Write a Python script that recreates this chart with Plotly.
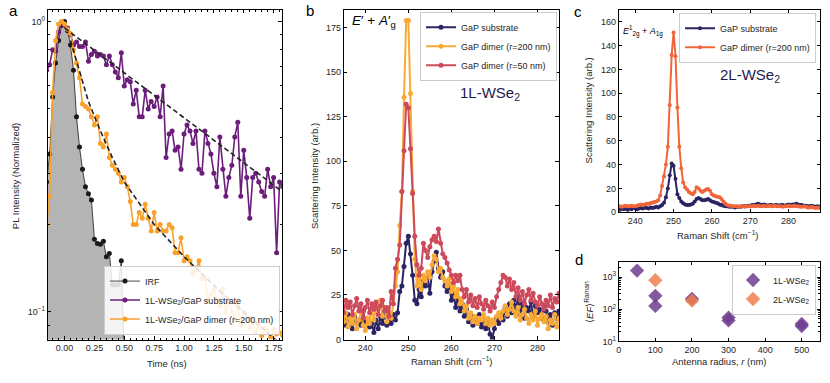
import numpy as np
import plotly.graph_objects as go

# ---------------- panel a : PL decay (normalized) ----------------
t_start, t_step = -0.15, 0.025
irf = [0.28, 0.35, 0.55, 0.72, 0.86, 0.97, 1.0, 0.93, 0.83, 0.68, 0.47,
       0.37, 0.31, 0.27, 0.255, 0.243, 0.178, 0.172, 0.171, 0.175, 0.155,
       0.159, 0.124, 0.124, 0.124, 0.150, 0.07, 0.06, 0.05]
pl_sub = [0.68,
          0.71, 0.80, 0.79, 0.92, 0.99, 0.97, 0.95, 0.90, 0.83, 0.85,
          0.82, 0.82, 0.85, 0.73, 0.77, 0.79, 0.76, 0.77, 0.76, 0.71,
          0.76, 0.71, 0.67, 0.64, 0.78, 0.60, 0.63, 0.62, 0.52, 0.58,
          0.47, 0.47, 0.58, 0.50, 0.53, 0.51, 0.55, 0.47, 0.60, 0.34,
          0.41, 0.42, 0.36, 0.37, 0.31, 0.41, 0.44, 0.42, 0.38, 0.42,
          0.31, 0.30, 0.42, 0.38, 0.35, 0.30, 0.27, 0.40, 0.31, 0.25,
          0.29, 0.32, 0.40, 0.45, 0.25, 0.36, 0.29, 0.21, 0.29, 0.30,
          0.28, 0.26, 0.25, 0.31, 0.27, 0.29, 0.16, 0.28,
          0.27]
pl_dimer = [0.20,
            0.25, 0.57, 0.86, 0.98, 1.0, 0.98, 0.94, 0.91, 0.80, 0.72,
            0.64, 0.52, 0.51, 0.50, 0.47, 0.44, 0.47, 0.38, 0.37, 0.41,
            0.34, 0.32, 0.31, 0.30, 0.28, 0.29, 0.27, 0.24, 0.20, 0.20,
            0.22, 0.21, 0.235, 0.21, 0.19, 0.22, 0.19, 0.20, 0.19, 0.19,
            0.20, 0.195, 0.16, 0.16, 0.18, 0.15, 0.155, 0.15, 0.135, 0.14,
            0.15, 0.13, 0.13, 0.11, 0.115, 0.12, 0.11, 0.105, 0.12, 0.10,
            0.11, 0.10, 0.095, 0.105, 0.09, 0.10, 0.095, 0.088, 0.092, 0.085,
            0.09, 0.083, 0.088, 0.086, 0.082, 0.087, 0.084, 0.085,
            0.083]
fit_sub_t = [0.0, 1.82]
fit_sub = [0.95, 0.26]
fit_dimer_t = [0.05, 0.12, 0.2, 0.3, 0.4, 0.5, 0.75, 1.0, 1.3, 1.6, 1.85]
fit_dimer = [0.86, 0.68, 0.53, 0.42, 0.34, 0.28, 0.2, 0.155, 0.118, 0.092, 0.075]

# ---------------- panel b : 1L-WSe2 Raman ----------------
b_start = 235.0
b_sub = [12, 8, 14, 10, 6, 13, 9, 11, 8, 16,
         10, 12, 7, 9, 4, 11, 6, 13, 9, 15,
         8, 12, 9, 14, 11, 15, 27, 30, 41, 54,
         58, 48, 36, 22, 20, 28, 24, 33, 30, 35,
         26, 38, 44, 49, 40, 35, 38, 30, 27, 31,
         22, 26, 18, 23, 16, 20, 13, 17, 10, 14,
         8, 12, 9, 14, 7, 11, 6, 10, 3, 0.5,
         6, 12, 9, 14, 11, 18, 13, 20, 15, 22,
         17, 24, 14, 20, 12, 18, 16, 21, 13, 19,
         15, 17, 12, 19, 16, 10, 14, 8, 15, 12,
         16]
b_200 = [10, 15, 7, 12, 9, 14, 6, 11, 16, 8,
         5, 12, 9, 17, 11, 20, 14, 22, 13, 18,
         10, 15, 12, 20, 30, 38, 64, 83, 136, 179,
         179, 138, 83, 45, 30, 34, 28, 36, 33, 38,
         35, 42, 47, 45, 38, 40, 35, 33, 30, 34,
         27, 30, 24, 28, 20, 23, 16, 19, 12, 15,
         10, 13, 9, 12, 11, 14, 9, 12, 8, 11,
         9, 13, 15, 12, 16, 19, 14, 17, 21, 16,
         13, 18, 11, 14, 17, 12, 9, 14, 11, 16,
         8, 12, 14, 10, 13, 6, 11, 9, 14, 7,
         12]
b_50 = [15, 22, 18, 21, 14, 19, 23, 16, 20, 12,
        18, 22, 15, 20, 17, 21, 14, 19, 22, 16,
        18, 13, 27, 20, 40, 45, 53, 83, 106, 132,
        130, 107, 82, 58, 42, 36, 40, 54, 50, 46,
        52, 56, 58, 55, 62, 54, 48, 46, 43, 39,
        36, 32, 36, 33, 36, 28, 24, 28, 21, 25,
        19, 23, 18, 24, 20, 17, 22, 19, 16, 21,
        18, 24, 28, 32, 36, 35, 30, 34, 28, 32,
        24, 29, 22, 27, 20, 25, 28, 22, 26, 21,
        19, 24, 20, 17, 22, 19, 25, 18, 23, 21,
        26]

# ---------------- panel c : 2L-WSe2 Raman ----------------
c_start = 235.5
c_sub = [3, 2, 3, 2.5, 3, 2, 3, 2.5, 3.5, 3,
         2.5, 3, 3.5, 3, 4, 3.5, 3, 4, 3.5, 4,
         4.5, 4, 5, 6, 8, 12.5, 20, 31, 41, 39,
         28, 15, 12, 9, 7.5, 6.5, 6, 6, 6.5, 7,
         9, 11, 12, 11, 10, 10, 10.5, 11, 10, 9,
         8.5, 8, 7.5, 6.5, 6, 5.5, 5, 5, 4.5, 4.5,
         4.5, 4, 4.5, 4.5, 4.5, 5, 5, 5, 5.5, 5.5,
         6, 6, 6.5, 7, 6.5, 6, 6.5, 6, 5.5, 6,
         6, 5.5, 6, 6, 5.5, 6, 6, 5.5, 6, 6.5,
         6, 6.5, 6.5, 7, 6.5, 6, 6, 5.5, 5.5, 5,
         5, 5.5, 5, 4.5, 5, 4.5]
c_200 = [4.5, 5, 4.5, 5, 5.5, 5, 5, 5.5, 5, 5,
         5.5, 6, 6.5, 6, 6.5, 7, 7, 7.5, 8, 8.5,
         9, 10, 14, 22, 30, 40, 55, 90, 132, 151,
         131, 88, 55, 37, 25, 21, 19, 17, 16, 15,
         17, 21, 20, 18, 17, 18, 19, 19.5, 18, 15,
         14, 13.5, 13, 12.5, 11, 9, 7, 6, 5.5, 5.5,
         5, 5, 5, 4.5, 5, 5, 4.5, 5, 5, 5,
         5, 5.5, 5, 5.5, 5, 5, 5.5, 5, 5, 5.5,
         5, 5, 5.5, 5, 5, 5, 4.5, 5, 5, 5.5,
         5, 5, 5.5, 5, 5, 4.5, 4.5, 5, 4.5, 4,
         4, 4.5, 4, 3.5, 4, 3.5]

# ---------------- panel d : enhancement factor ----------------
r_1L = [50, 100, 100, 200, 300, 300, 500, 500]
ef_1L = [1580, 260, 127, 210, 55, 45, 35, 30]
r_2L = [100, 200]
ef_2L = [800, 185]

t_pl = t_start + t_step * np.arange(len(pl_sub))
t_irf = t_start + t_step * np.arange(len(irf))
raman_b = b_start + 0.5 * np.arange(len(b_sub))
raman_c = c_start + 0.5 * np.arange(len(c_sub))

W, H = 830, 383
def px(x):
    return x / W
def py(y):
    return 1 - y / H

NAVY = "#2b2463"
fig = go.Figure()

# panel a  (grey area under the IRF, then the traces)
fig.add_trace(go.Scatter(x=t_irf, y=[0.01] * len(irf), mode="lines", line=dict(width=0),
                         showlegend=False, hoverinfo="skip", xaxis="x", yaxis="y"))
fig.add_trace(go.Scatter(x=t_irf, y=irf, mode="lines", fill="tonexty", fillcolor="#b4b4b4",
                         line=dict(width=0), showlegend=False, hoverinfo="skip", xaxis="x", yaxis="y"))
fig.add_trace(go.Scatter(x=t_irf, y=irf, mode="lines+markers", name="IRF",
                         line=dict(color="#1a1a1a", width=0.8),
                         marker=dict(size=5, color="#1a1a1a"), xaxis="x", yaxis="y", legend="legend"))
fig.add_trace(go.Scatter(x=t_pl, y=pl_sub, mode="lines+markers", name="1L-WSe<sub>2</sub>/GaP substrate",
                         line=dict(color="#6c1d7c", width=1.6), marker=dict(size=5, color="#6c1d7c"),
                         xaxis="x", yaxis="y", legend="legend"))
fig.add_trace(go.Scatter(x=t_pl, y=pl_dimer, mode="lines+markers", name="1L-WSe<sub>2</sub>/GaP dimer (r=200 nm)",
                         line=dict(color="#f8a22c", width=1.6), marker=dict(size=5, color="#f8a22c"),
                         xaxis="x", yaxis="y", legend="legend"))
for tt, yy in [(fit_sub_t, fit_sub), (fit_dimer_t, fit_dimer)]:
    fig.add_trace(go.Scatter(x=tt, y=yy, mode="lines", line=dict(color="#222", width=1.6, dash="5px,3px"),
                             showlegend=False, xaxis="x", yaxis="y"))

# panel b
for yy, name, col in [(b_sub, "GaP substrate", NAVY), (b_200, "GaP dimer (r=200 nm)", "#f9a935"),
                      (b_50, "GaP dimer (r=50 nm)", "#cd4a5c")]:
    fig.add_trace(go.Scatter(x=raman_b, y=yy, mode="lines+markers", name=name,
                             line=dict(color=col, width=2), marker=dict(size=5, color=col),
                             xaxis="x2", yaxis="y2", legend="legend2"))

# panel c
for yy, name, col in [(c_sub, "GaP substrate", NAVY), (c_200, "GaP dimer (r=200 nm)", "#f0653a")]:
    fig.add_trace(go.Scatter(x=raman_c, y=yy, mode="lines+markers", name=name,
                             line=dict(color=col, width=2), marker=dict(size=4, color=col),
                             xaxis="x3", yaxis="y3", legend="legend3"))

# panel d
fig.add_trace(go.Scatter(x=r_1L, y=ef_1L, mode="markers", name="1L-WSe<sub>2</sub>",
                         marker=dict(symbol="diamond", size=11, color="#6e3d8e", opacity=0.85),
                         xaxis="x4", yaxis="y4", legend="legend4"))
fig.add_trace(go.Scatter(x=r_2L, y=ef_2L, mode="markers", name="2L-WSe<sub>2</sub>",
                         marker=dict(symbol="diamond", size=11, color="#f07d4e", opacity=0.85),
                         xaxis="x4", yaxis="y4", legend="legend4"))


def ax(**kw):
    d = dict(showline=True, linecolor="black", linewidth=1, mirror="ticks", ticks="inside",
             ticklen=3.5, tickwidth=1, tickcolor="black", showgrid=False, zeroline=False,
             tickfont=dict(size=9, color="#262626"))
    d.update(kw)
    return d


ya_top, ya_bot = py(10), py(344)
fig.update_layout(
    width=W, height=H, margin=dict(l=0, r=0, t=0, b=0),
    paper_bgcolor="white", plot_bgcolor="white",
    font=dict(family="Liberation Sans, Arial, sans-serif", size=9, color="#262626"),
    xaxis=ax(domain=[px(45), px(280)], range=[-0.14, 1.82], tickvals=[0, 0.25, 0.5, 0.75, 1, 1.25, 1.5, 1.75],
             tickformat=".2f", anchor="y",
             minor=dict(ticks="inside", ticklen=2, tickcolor="black", dtick=0.05)),
    yaxis=ax(domain=[ya_bot, ya_top], type="log", range=[-1.095, 0.04], anchor="x",
             tickvals=[0.1, 1], ticktext=["10<sup>\u22121</sup>", "10<sup>0</sup>"],
             minor=dict(ticks="inside", ticklen=2, tickcolor="black",
                        tickvals=[0.09, 0.2, 0.3, 0.4, 0.5, 0.6, 0.7, 0.8, 0.9])),
    xaxis2=ax(domain=[px(342), px(558)], range=[235, 285], dtick=10, anchor="y2"),
    yaxis2=ax(domain=[ya_bot, ya_top], range=[0, 185], dtick=25, anchor="x2"),
    xaxis3=ax(domain=[px(618), px(820)], range=[235.7, 288.2], dtick=10, anchor="y3"),
    yaxis3=ax(domain=[py(215), ya_top], range=[0, 170], dtick=20, anchor="x3"),
    xaxis4=ax(domain=[px(618), px(820)], range=[0, 550], dtick=100, anchor="y4"),
    yaxis4=ax(domain=[py(346), py(265)], type="log", range=[1, 3.48], anchor="x4",
              tickvals=[10, 100, 1000], ticktext=["10<sup>1</sup>", "10<sup>2</sup>", "10<sup>3</sup>"],
              minor=dict(ticks="inside", ticklen=2, tickcolor="black",
                         tickvals=[20, 30, 40, 50, 60, 70, 80, 90, 200, 300, 400, 500, 600, 700, 800, 900, 2000, 3000])),
)

leg = dict(bgcolor="rgba(255,255,255,0.85)", bordercolor="#cccccc", borderwidth=1,
           font=dict(size=9, color="#262626"), tracegroupgap=0, itemwidth=30, traceorder="normal")
fig.update_layout(
    legend=dict(leg, x=px(278), y=py(339), xanchor="right", yanchor="bottom"),
    legend2=dict(leg, x=px(556), y=py(12), xanchor="right", yanchor="top"),
    legend3=dict(leg, x=px(816), y=py(13), xanchor="right", yanchor="top"),
    legend4=dict(leg, x=px(816), y=py(268), xanchor="right", yanchor="top"),
)

ann = []
def txt(x, y, s, size=9.5, angle=0, color="#262626"):
    ann.append(dict(x=px(x), y=py(y), xref="paper", yref="paper", text=s, showarrow=False,
                    textangle=angle, font=dict(size=size, color=color), xanchor="center", yanchor="middle"))

txt(10.5, 11, "a", 15, color="black")
txt(308.5, 11, "b", 15, color="black")
txt(577.5, 12, "c", 15, color="black")
txt(578, 263, "d", 15, color="black")
txt(12.5, 178, "PL Intensity (Normalized)", angle=-90)
txt(165, 368, "Time (ns)")
txt(312.5, 178, "Scattering Intensity (arb.)", angle=-90)
txt(451, 366, "Raman Shift (cm<sup>\u22121</sup>)")
txt(588, 112, "Scattering Intensity (arb.)", angle=-90)
txt(718, 238, "Raman Shift (cm<sup>\u22121</sup>)")
txt(588, 306, "\u27e8<i>EF</i>\u27e9<sup>Raman</sup>", angle=-90)
txt(719, 366, "Antenna radius, <i>r</i> (nm)")
txt(372, 22, "<i>E</i>\u2032 + <i>A</i>\u2032<sub>g</sub>", 13.5, color="black")
txt(489, 95, "1L-WSe<sub>2</sub>", 15, color="#1f1a4f")
txt(642, 31, "<i>E</i><sup>1</sup><sub>2g</sub> + <i>A</i><sub>1g</sub>", 9, color="black")
txt(750, 76, "2L-WSe<sub>2</sub>", 15, color="#1f1a4f")
fig.update_layout(annotations=ann)

fig.write_html("out.html", config={"displayModeBar": False},
               post_script="document.body.style.margin='0';")
